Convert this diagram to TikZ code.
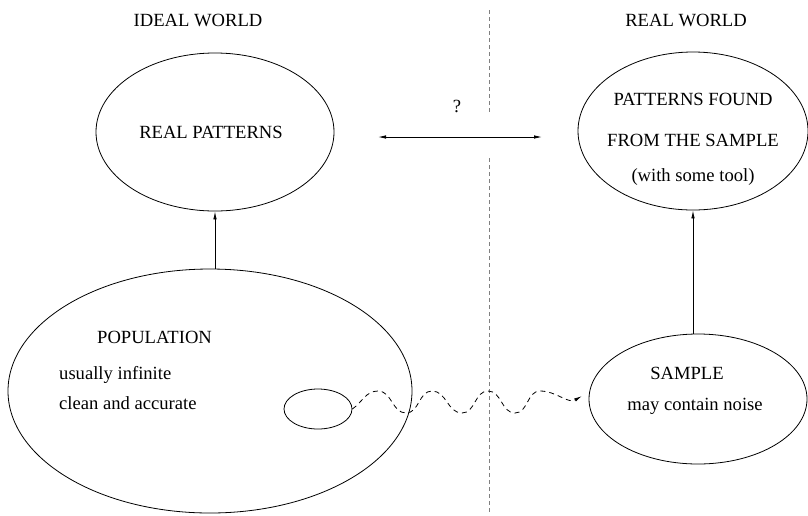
\documentclass[tikz,border=0pt]{standalone}
\usepackage{fontspec}
\setmainfont{Liberation Serif}
\usetikzlibrary{shapes.geometric,arrows.meta}
\begin{document}
\begin{tikzpicture}[x=1pt,y=-1pt,
  oval/.style={draw,ellipse,line width=0.8pt,inner sep=0pt},
  lbl/.style={font=\fontsize{18.6}{22}\selectfont,inner sep=0pt},
  arr/.style={line width=0.8pt,-{Latex[length=8pt,width=3.5pt]}},
  divider/.style={draw=gray,line width=0.8pt,dash pattern=on 4pt off 3pt},
  wavy/.style={line width=0.8pt,dash pattern=on 5pt off 4pt,-{Latex[length=8pt,width=3.5pt]}}]
\useasboundingbox (0,0) rectangle (808,515);
% ellipses
\node[oval,minimum width=238pt,minimum height=158pt] (rp) at (215,132) {};
\node[oval,minimum width=230pt,minimum height=158pt] (pf) at (693,131) {};
\node[oval,minimum width=404pt,minimum height=244pt] (pop) at (210,391) {};
\node[oval,minimum width=218pt,minimum height=130pt] (smp) at (698,399) {};
\node[oval,minimum width=68pt,minimum height=40pt] (sub) at (318,409) {};
% texts
\node[lbl,anchor=base] (iw) at (198,26) {IDEAL WORLD};
\node[lbl,anchor=base] (rw) at (686,26) {REAL WORLD};
\node[lbl,anchor=base] (q) at (457,112) {?};
\node[lbl,anchor=base] (rpt) at (211,138) {REAL PATTERNS};
\node[lbl,anchor=base] (pf1) at (693,105) {PATTERNS FOUND};
\node[lbl,anchor=base] (pf2) at (693,146) {FROM THE SAMPLE};
\node[lbl,anchor=base] (pf3) at (693,181) {(with some tool)};
\node[lbl,anchor=base west] (pt1) at (97,343) {POPULATION};
\node[lbl,anchor=base west] (pt2) at (59,379) {usually infinite};
\node[lbl,anchor=base west] (pt3) at (59,409) {clean and accurate};
\node[lbl,anchor=base] (st1) at (687,379) {SAMPLE};
\node[lbl,anchor=base] (st2) at (695,410) {may contain noise};
% divider
\coordinate (d1) at (489,10);
\coordinate (d2) at (489,113);
\coordinate (d3) at (489,158);
\coordinate (d4) at (489,512);
\draw[divider] (d1) -- (d2);
\draw[divider] (d3) -- (d4);
% double arrow
\coordinate (da1) at (378,137);
\coordinate (da2) at (542,137);
\draw[line width=0.8pt,{Latex[length=8pt,width=3.5pt]}-{Latex[length=8pt,width=3.5pt]}] (da1) -- (da2);
% vertical arrows
\draw[arr] (rp.south |- pop.north) -- (rp.south);
\draw[arr] (pf.south |- smp.north) -- (pf.south);
% wavy
\coordinate (wend) at (582,396);
\draw[wavy] (sub.east) to[out=35,in=180] (378,391) to[out=0,in=180] (406,413)
  to[out=0,in=180] (432,391) to[out=0,in=180] (462,413)
  to[out=0,in=180] (488,391) to[out=0,in=180] (515,413)
  to[out=0,in=180] (540,391) to[out=0,in=210] (wend);
\end{tikzpicture}
\end{document}
